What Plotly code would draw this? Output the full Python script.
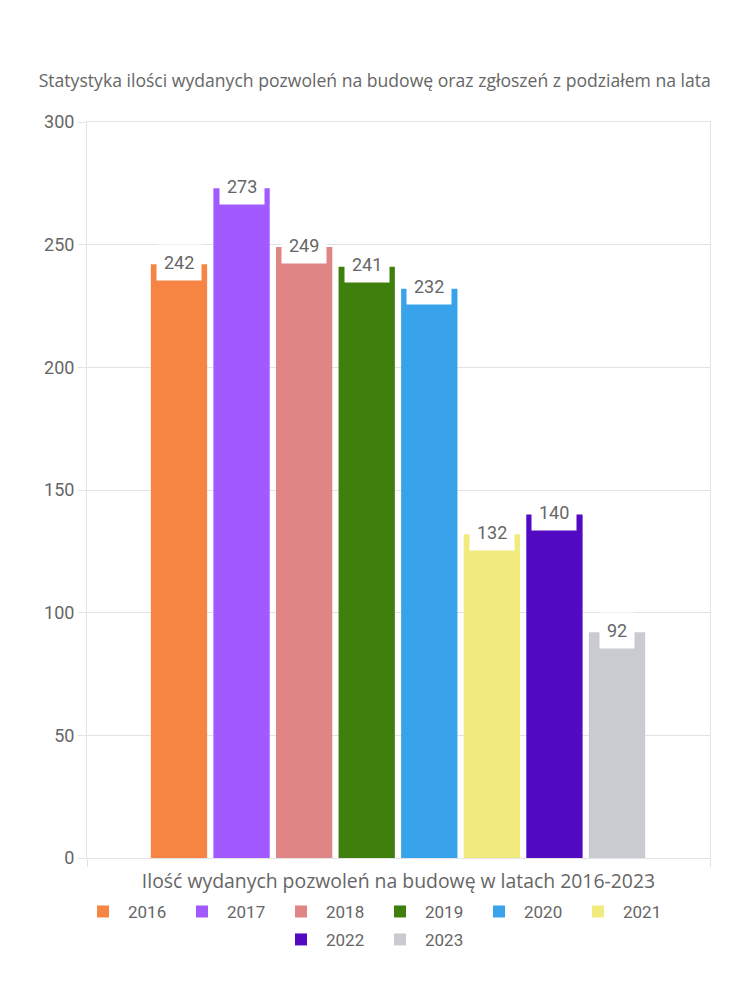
import plotly.graph_objects as go

years = ["2016", "2017", "2018", "2019", "2020", "2021", "2022", "2023"]
values = [242, 273, 249, 241, 232, 132, 140, 92]
colors = ["#F68442", "#A05AFF", "#E08585", "#3F7F0D", "#38A3EB", "#F1EB7E", "#520BC3", "#CACBD0"]
title_text = "Statystyka ilości wydanych pozwoleń na budowę oraz zgłoszeń z podziałem na lata"
x_title = "Ilość wydanych pozwoleń na budowę w latach 2016-2023"
y_ticks = [0, 50, 100, 150, 200, 250, 300]

TITLE_FONT = "Open Sans"
NUM_FONT = "Roboto"
GREY = "#666666"
LINE = "#e3e3e3"

x_lo, x_hi = -1.47, 8.486

fig = go.Figure()
for i, (yr, v, c) in enumerate(zip(years, values, colors)):
    fig.add_trace(go.Bar(
        x=[i], y=[v], name=yr, marker=dict(color=c, line=dict(width=0)),
        width=0.9, legend="legend" if i < 6 else "legend2",
        hoverinfo="y+name",
    ))
    fig.add_annotation(
        x=i, y=v, xref="x", yref="y", text=str(v), showarrow=False,
        yanchor="middle", yshift=2, bgcolor="white", borderpad=7,
        font=dict(family=NUM_FONT, size=18, color=GREY),
    )

legend_common = dict(orientation="h", x=(375 - 87) / 623, xanchor="center", yanchor="middle",
                     entrywidth=44, entrywidthmode="pixels", itemwidth=40,
                     font=dict(family=NUM_FONT, size=17, color=GREY))

fig.update_layout(
    width=750, height=1000,
    paper_bgcolor="white", plot_bgcolor="white",
    margin=dict(l=79, r=48, t=114, b=150),
    title=dict(text=title_text, x=0.489, xref="container", xanchor="center",
               y=0.927, yref="container", yanchor="middle",
               font=dict(family=TITLE_FONT, size=17.6, color=GREY)),
    showlegend=True,
    legend=dict(y=(858 - 912) / 737, **legend_common),
    legend2=dict(y=(858 - 940) / 737, **legend_common),
    xaxis=dict(range=[x_lo, x_hi], showgrid=False, zeroline=False,
               showline=True, linecolor=LINE, linewidth=1, mirror=True,
               tickmode="array", tickvals=[x_lo, x_hi], showticklabels=False,
               ticks="outside", ticklen=8, tickcolor=LINE,
               title=dict(text=x_title, standoff=8,
                          font=dict(family=TITLE_FONT, size=19.4, color=GREY))),
    yaxis=dict(range=[0, 300], tickvals=y_ticks, showgrid=True, gridcolor=LINE,
               zeroline=False, showline=True, linecolor=LINE, mirror=True,
               ticks="outside", ticklen=8, tickcolor=LINE,
               tickfont=dict(family=NUM_FONT, size=18, color=GREY)),
)

fig.write_html("out.html")
